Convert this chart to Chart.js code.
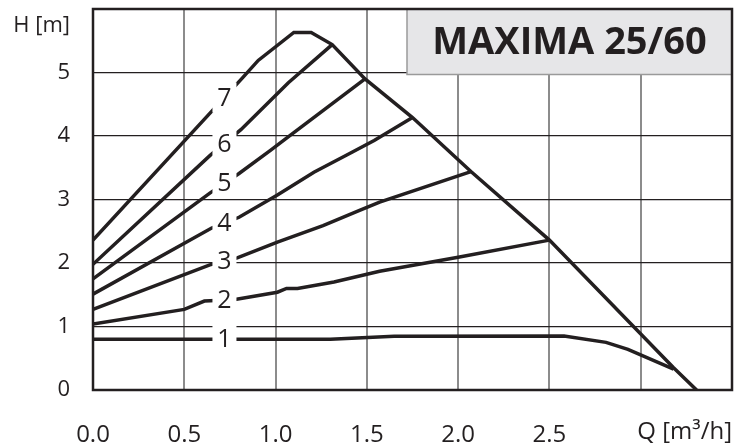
<!DOCTYPE html>
<html>
<head>
<meta charset="utf-8">
<script src="https://cdn.jsdelivr.net/npm/chart.js@4"></script>
<style>
  html, body { margin: 0; padding: 0; background: #fff; }
</style>
</head>
<body>
<canvas id="pumpChart" width="735" height="446"></canvas>
<script>
// Tick labels and axis captions
var xTickLabels = ["0.0", "0.5", "1.0", "1.5", "2.0", "2.5"];
var yTickLabels = ["0", "1", "2", "3", "4", "5"];
var xAxisTitle = "Q [m\u00B3/h]";
var yAxisTitle = "H [m]";
var chartTitle = "MAXIMA 25/60";

// Speed curves 1..7 (Q in m3/h, H in m)
var curveNames = ["1", "2", "3", "4", "5", "6", "7"];

var q1 = [0, 1.3, 1.65, 2.58, 2.81, 2.93, 3.18];
var h1 = [0.8, 0.8, 0.845, 0.85, 0.75, 0.64, 0.33];

var q2 = [0, 0.5, 0.61, 0.77, 1.01, 1.06, 1.12, 1.32, 1.57, 2.0, 2.5];
var h2 = [1.04, 1.27, 1.40, 1.42, 1.54, 1.60, 1.60, 1.70, 1.87, 2.09, 2.36];

var q3 = [0, 0.64, 0.79, 1.01, 1.26, 1.46, 1.57, 2.07];
var h3 = [1.27, 1.97, 2.08, 2.33, 2.59, 2.83, 2.96, 3.44];

var q4 = [0, 0.65, 0.80, 1.01, 1.21, 1.39, 1.54, 1.75];
var h4 = [1.51, 2.55, 2.72, 3.07, 3.43, 3.70, 3.93, 4.29];

var q5 = [0, 0.64, 0.80, 0.97, 1.08, 1.49];
var h5 = [1.75, 3.10, 3.41, 3.77, 4.01, 4.90];

var q6 = [0, 0.64, 0.81, 1.07, 1.31];
var h6 = [1.98, 3.69, 4.10, 4.84, 5.44];

// curve 7 runs on into the max envelope down to H = 0
var q7 = [0, 0.67, 0.82, 0.905, 1.10, 1.195, 1.31, 1.49, 1.75, 2.07, 2.5, 3.18, 3.306];
var h7 = [2.36, 4.45, 4.92, 5.19, 5.63, 5.63, 5.44, 4.90, 4.29, 3.44, 2.36, 0.35, 0];

var curvesQ = [q1, q2, q3, q4, q5, q6, q7];
var curvesH = [h1, h2, h3, h4, h5, h6, h7];

var ink = "#231f20";

function toPoints(qs, hs) {
    var pts = [];
    for (var i = 0; i < qs.length; i++) pts.push({ x: qs[i], y: hs[i] });
    return pts;
}

var datasets = curveNames.map(function (name, i) {
    return {
        label: name,
        data: toPoints(curvesQ[i], curvesH[i]),
        showLine: true,
        borderColor: ink,
        borderWidth: 3.5,
        pointRadius: 0,
        tension: 0,
        fill: false
    };
});

// H on a curve at a given Q (straight lines between points)
function hAt(points, q) {
    for (var i = 0; i < points.length - 1; i++) {
        var a = points[i], b = points[i + 1];
        if (q >= a.x && q <= b.x) return a.y + (b.y - a.y) * (q - a.x) / (b.x - a.x);
    }
    return points[points.length - 1].y;
}

var decorations = {
    id: "decorations",
    afterDatasetsDraw: function (chart) {
        var ctx = chart.ctx, area = chart.chartArea;
        var xs = chart.scales.x, ys = chart.scales.y;
        ctx.save();

        // curve numbers sitting in a white gap on each line
        ctx.font = "25px 'Open Sans'";
        ctx.textAlign = "center";
        ctx.textBaseline = "middle";
        chart.data.datasets.forEach(function (ds) {
            var q = 0.72;
            var px = xs.getPixelForValue(q), py = ys.getPixelForValue(hAt(ds.data, q));
            ctx.fillStyle = "#fff";
            ctx.fillRect(px - 12, py - 15, 24, 30);
            ctx.fillStyle = ink;
            ctx.fillText(ds.label, px, py + 1);
        });

        // title box
        var bx = 407, by = area.top, bw = area.right - bx, bh = ys.getPixelForValue(5) + 2 - by;
        ctx.fillStyle = "#e6e6e8";
        ctx.fillRect(bx, by, bw, bh);
        ctx.strokeStyle = "#9a9a9a";
        ctx.lineWidth = 1.5;
        ctx.strokeRect(bx, by, bw, bh);
        ctx.fillStyle = ink;
        ctx.font = "bold 38px 'Open Sans'";
        ctx.fillText(chartTitle, bx + bw / 2, by + bh / 2 + 1);

        // frame
        ctx.strokeStyle = ink;
        ctx.lineWidth = 2.5;
        ctx.strokeRect(area.left, area.top, area.right - area.left, area.bottom - area.top);

        // axis captions
        ctx.font = "22px 'Open Sans'";
        ctx.textAlign = "right";
        ctx.fillText(yAxisTitle, 70, 26);
        ctx.font = "24px 'Open Sans'";
        ctx.fillText(xAxisTitle, 732, 432);
        ctx.restore();
    }
};

var ctx = document.getElementById("pumpChart").getContext("2d");

var pumpChart = new Chart(ctx, {
    type: "scatter",
    data: { datasets: datasets },
    options: {
        responsive: false,
        animation: false,
        layout: { padding: { top: 9, right: 3, left: 0, bottom: 0 } },
        plugins: {
            legend: { display: false },
            tooltip: { enabled: false }
        },
        scales: {
            x: {
                type: "linear",
                min: 0,
                max: 3.5,
                afterFit: function (scale) {
                    scale.height = 56;
                    scale.paddingLeft = 0;
                    scale.paddingRight = 0;
                },
                ticks: {
                    stepSize: 0.5,
                    padding: 31,
                    color: ink,
                    font: { family: "'Open Sans'", size: 24 },
                    maxRotation: 0,
                    callback: function (v, i) { return xTickLabels[i] !== undefined ? xTickLabels[i] : ""; }
                },
                grid: { color: "#8c8c8c", lineWidth: 2, drawTicks: false },
                border: { display: false }
            },
            y: {
                min: 0,
                max: 6,
                afterFit: function (scale) {
                    scale.width = 93;
                    scale.paddingTop = 0;
                    scale.paddingBottom = 0;
                },
                ticks: {
                    stepSize: 1,
                    padding: 23,
                    color: ink,
                    font: { family: "'Open Sans'", size: 22 },
                    callback: function (v, i) { return yTickLabels[i] !== undefined ? yTickLabels[i] : ""; }
                },
                grid: { color: ink, lineWidth: 1.3, drawTicks: false },
                border: { display: false }
            }
        }
    },
    plugins: [decorations]
});
</script>
</body>
</html>
